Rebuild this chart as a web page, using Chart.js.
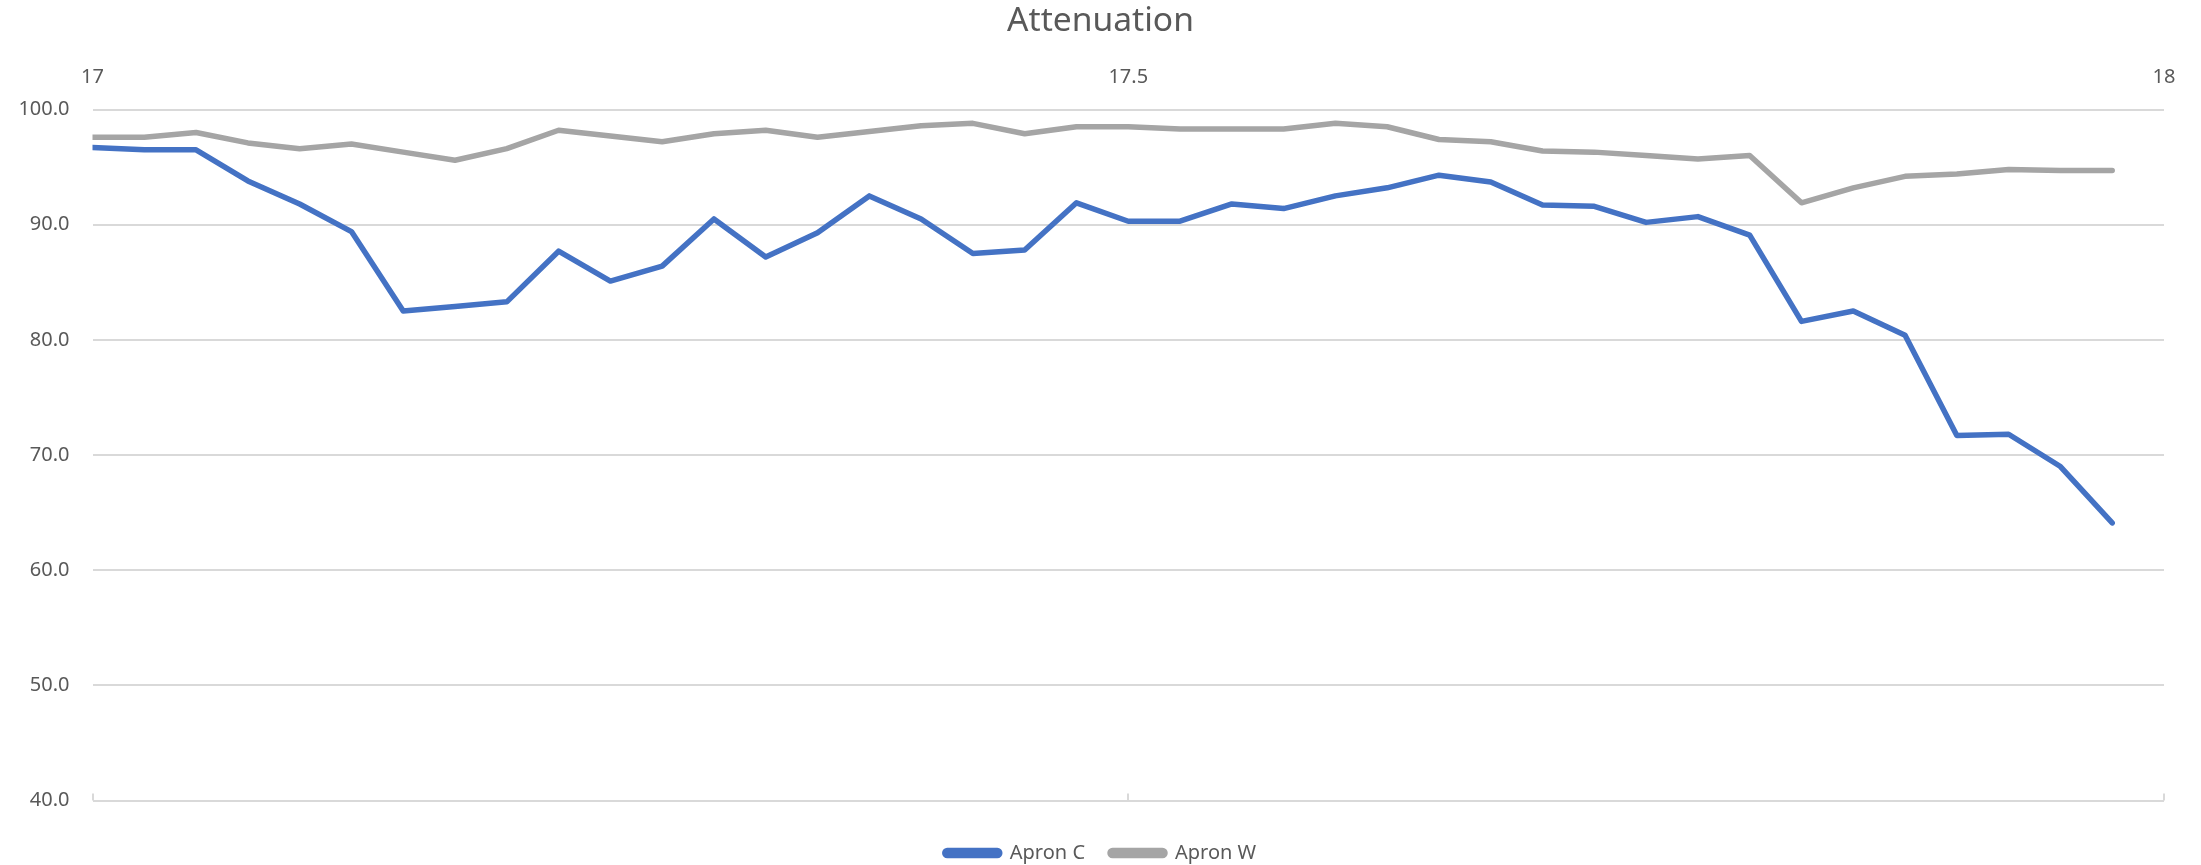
<!DOCTYPE html>
<html>
<head>
<meta charset="utf-8">
<title>Attenuation</title>
<script src="https://cdn.jsdelivr.net/npm/chart.js@4.4.1/dist/chart.umd.min.js"></script>
<style>
  html, body { margin: 0; padding: 0; background: #ffffff; }
  #wrap { width: 2201px; height: 865px; }
</style>
</head>
<body>
<div id="wrap"><canvas id="chart" width="2201" height="865"></canvas></div>
<script>
// Frequency positions (x) and attenuation readings for each apron
const frequencies = [
  17.000, 17.025, 17.050, 17.075, 17.100, 17.125, 17.150, 17.175, 17.200, 17.225,
  17.250, 17.275, 17.300, 17.325, 17.350, 17.375, 17.400, 17.425, 17.450, 17.475,
  17.500, 17.525, 17.550, 17.575, 17.600, 17.625, 17.650, 17.675, 17.700, 17.725,
  17.750, 17.775, 17.800, 17.825, 17.850, 17.875, 17.900, 17.925, 17.950, 17.975
];

const apronC = [
  96.7, 96.5, 96.5, 93.8, 91.8, 89.4, 82.5, 82.9, 83.3, 87.7,
  85.1, 86.4, 90.5, 87.2, 89.3, 92.5, 90.5, 87.5, 87.8, 91.9,
  90.3, 90.3, 91.8, 91.4, 92.5, 93.2, 94.3, 93.7, 91.7, 91.6,
  90.2, 90.7, 89.1, 81.6, 82.5, 80.4, 71.7, 71.8, 69.0, 64.1
];

const apronW = [
  97.6, 97.6, 98.0, 97.1, 96.6, 97.0, 96.3, 95.6, 96.6, 98.2,
  97.7, 97.2, 97.9, 98.2, 97.6, 98.1, 98.6, 98.8, 97.9, 98.5,
  98.5, 98.3, 98.3, 98.3, 98.8, 98.5, 97.4, 97.2, 96.4, 96.3,
  96.0, 95.7, 96.0, 91.9, 93.2, 94.2, 94.4, 94.8, 94.7, 94.7
];

const seriesNames = ['Apron C', 'Apron W'];
const xTickValues = [17, 17.5, 18];

const textColor = '#595959';
const gridColor = '#d9d9d9';

Chart.defaults.font.family = "'Noto Sans', 'Open Sans', sans-serif";
Chart.defaults.color = textColor;

const toPoints = (values) => frequencies.map((x, i) => ({ x: x, y: values[i] }));

// Short tick marks pointing up into the plot along the bottom edge
const insideTicks = {
  id: 'insideTicks',
  afterDraw(chart) {
    const { ctx, chartArea, scales } = chart;
    const x = scales.x;
    ctx.save();
    ctx.strokeStyle = gridColor;
    ctx.lineWidth = 2;
    x.ticks.forEach(t => {
      const px = Math.round(x.getPixelForValue(t.value));
      ctx.beginPath();
      ctx.moveTo(px, chartArea.bottom);
      ctx.lineTo(px, chartArea.bottom - 7);
      ctx.stroke();
    });
    ctx.restore();
  }
};

// Empty axis used only to reserve blank space beside the plot
const spacerAxis = (position, size) => ({
  type: 'linear',
  position: position,
  display: true,
  ticks: { display: false },
  grid: { display: false, drawTicks: false },
  border: { display: false },
  afterFit: (scale) => {
    if (position === 'left' || position === 'right') scale.width = size;
    else scale.height = size;
  }
});

new Chart(document.getElementById('chart'), {
  type: 'line',
  data: {
    datasets: [
      {
        label: seriesNames[0],
        data: toPoints(apronC),
        borderColor: '#4472c4',
        backgroundColor: '#4472c4',
        borderWidth: 5.5,
        borderJoinStyle: 'round',
        borderCapStyle: 'round',
        pointRadius: 0,
        tension: 0
      },
      {
        label: seriesNames[1],
        data: toPoints(apronW),
        borderColor: '#a5a5a5',
        backgroundColor: '#a5a5a5',
        borderWidth: 5.5,
        borderJoinStyle: 'round',
        borderCapStyle: 'round',
        pointRadius: 0,
        tension: 0
      }
    ]
  },
  options: {
    responsive: false,
    animation: false,
    devicePixelRatio: 1,
    layout: { padding: 0 },
    plugins: {
      title: {
        display: true,
        text: 'Attenuation',
        color: textColor,
        font: { size: 33.6, weight: 'normal' },
        padding: { top: 1, bottom: 0 }
      },
      legend: {
        position: 'bottom',
        maxHeight: 47,
        labels: {
          color: textColor,
          font: { size: 20 },
          boxWidth: 55,
          boxHeight: 5,
          padding: 25,
          useBorderRadius: true,
          borderRadius: 2.5
        }
      },
      tooltip: { enabled: false }
    },
    scales: {
      x: {
        type: 'linear',
        position: 'top',
        min: 17,
        max: 18,
        afterBuildTicks: (scale) => { scale.ticks = xTickValues.map(v => ({ value: v })); },
        ticks: {
          color: textColor,
          font: { size: 20 },
          padding: 20,
          maxRotation: 0,
          callback: (v) => String(v)
        },
        grid: { display: false, drawTicks: false },
        border: { display: false },
        afterFit: (scale) => { scale.height = 68.2; }
      },
      xBottom: Object.assign(spacerAxis('bottom', 17.5), { min: 17, max: 18 }),
      yRight: Object.assign(spacerAxis('right', 37), { min: 40, max: 100 }),
      y: {
        min: 40,
        max: 100,
        ticks: {
          stepSize: 10,
          color: textColor,
          font: { size: 20 },
          padding: 23,
          callback: (v) => Number(v).toFixed(1)
        },
        grid: { color: gridColor, lineWidth: 2, drawTicks: false },
        border: { display: false },
        afterFit: (scale) => { scale.width = 92.5; }
      }
    }
  },
  plugins: [insideTicks]
});
</script>
</body>
</html>
